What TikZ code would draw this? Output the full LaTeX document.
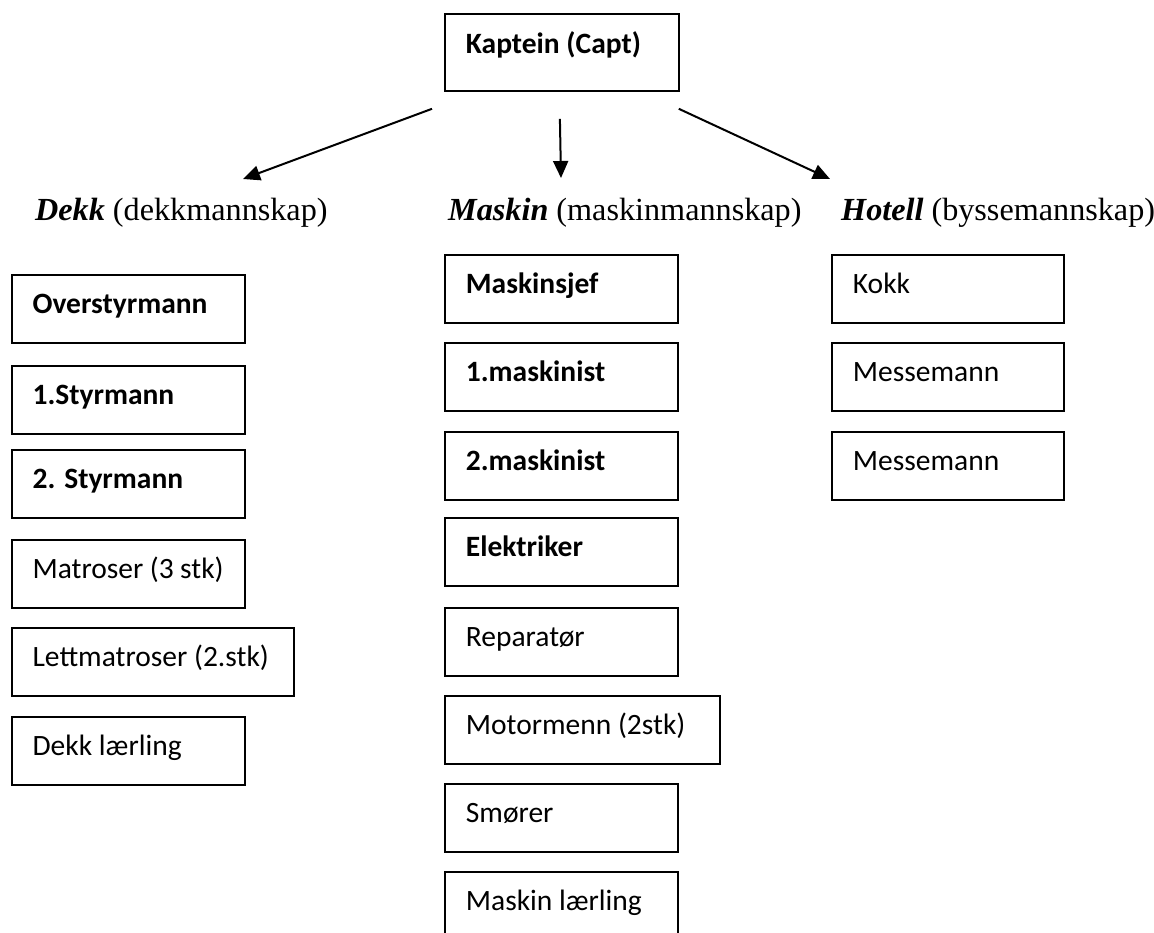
\documentclass[tikz,border=0pt]{standalone}
\usepackage{fontspec}
\setmainfont{Liberation Serif}
\newfontfamily\calibri{Carlito}
\usetikzlibrary{arrows.meta}
\tikzset{stilling/.style={draw,line width=1.8pt,anchor=north west,inner xsep=21pt,text width=#1,align=flush left,minimum height=68pt,text height=20pt,text depth=10pt,font=\calibri\fontsize{29.5}{31}\selectfont},
stilling/.default=191pt,
avdeling/.style={anchor=base west,inner sep=0pt,font=\fontsize{32.2}{34}\selectfont},
pil/.style={line width=2pt,-{Triangle[length=17pt,width=15pt]}}}
\begin{document}
\begin{tikzpicture}[x=1pt,y=-1pt]
\useasboundingbox (0,0) rectangle (1154,933);
\clip (0,0) rectangle (1154,933);
\node[stilling=192pt,minimum height=77pt,text depth=17pt] (kaptein) at (444,13) {\textbf{Kaptein (Capt)}};
\node[avdeling] (dekk) at (35,221) {\textbf{\textit{Dekk}} (dekkmannskap)};
\node[avdeling] (maskin) at (448,221) {\textbf{\textit{Maskin}} (maskinmannskap)};
\node[avdeling] (hotell) at (841,221) {\textbf{\textit{Hotell}} (byssemannskap)};
\coordinate (tipD) at (243,179);
\coordinate (tipM) at (561,178);
\coordinate (tipH) at (830,179);
\draw[pil] ([xshift=-12pt,yshift=-17pt]kaptein.south west) -- (tipD);
\draw[pil] ([xshift=-2pt,yshift=-27pt]kaptein.south) -- (tipM);
\draw[pil] ([xshift=-1pt,yshift=-17pt]kaptein.south east) -- (tipH);
\foreach \y/\w/\t [count=\i] in {274/191pt/\textbf{Overstyrmann},365/191pt/\textbf{1.Styrmann},449/191pt/\textbf{2. Styrmann},539/191pt/Matroser (3 stk),627/240pt/Lettmatroser (2.stk),716/191pt/Dekk lærling}
\node[stilling=\w] (d\i) at (10.7,\y) {\t};
\foreach \y/\w/\t [count=\i] in {254/191pt/\textbf{Maskinsjef},342/191pt/\textbf{1.maskinist},431/191pt/\textbf{2.maskinist},517/191pt/\textbf{Elektriker},607/191pt/Reparatør,695/233pt/Motormenn (2stk),783/191pt/Smører,871/191pt/Maskin lærling}
\node[stilling=\w] (m\i) at (444,\y) {\t};
\foreach \y/\t [count=\i] in {254/Kokk,342/Messemann,431/Messemann}
\node[stilling=190pt] (h\i) at (831,\y) {\t};
\end{tikzpicture}
\end{document}
